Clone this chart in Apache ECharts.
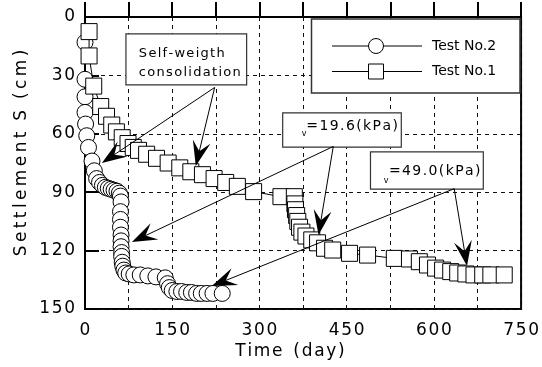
<!DOCTYPE html>
<html>
<head>
<meta charset="utf-8">
<script src="https://cdn.jsdelivr.net/npm/echarts@6/dist/echarts.min.js"></script>
<style>
html,body{margin:0;padding:0;background:#fff;}
#c{width:542px;height:367px;}
</style>
</head>
<body>
<div id="c"></div>
<script>
// ---- data (day, settlement cm) ----
var test2Days = [0,0,0,0,1,3,6,12,16,20,25,30,35,40,45,50,55,59,61,62,61,61,61,62,62,62,63,63,64,65,67,70,76,84,95,108,122,138,142,145,150,158,166,175,183,192,200,210,220,236];
var test2S    = [13,32,41,49,55,61,67,74,79,83,85,86.5,87.5,88,88.5,89,89.5,90.5,92,95,100,104,108,112,115,118,121,123,126,128,130,131.5,132,132.5,132.5,133,133.5,134,137,139,140.5,141,141,141.5,141.5,142,142,142,142,142];
var test1Days = [7,7,15,27,37,46,54,64,74,83,92,106,123,143,163,182,202,222,242,262,290,337,360,361,362,364,366,369,373,380,390,400,412,426,455,486,532,558,575,589,603,615,629,641,655,669,684,698,721];
var test1S    = [7.5,20,35.5,46,51,55.5,59,62,65,67,68.5,70.5,72.6,75,77.5,79.5,81,83,85,87,89.7,92.3,92.3,96,99,102,105,108,110.5,112.5,114.5,116,118.8,119.7,121.4,122.3,124,124.3,125.7,127.4,129,130,130.8,131.5,132,132.5,132.5,132.5,132.5];
var xTicks = [0,150,300,450,600,750];
var yTicks = [0,30,60,90,120,150];
var seriesNames = ['Test No.2','Test No.1'];

var HS = '\u200A';
function sp(s, ch){ return String(s).split('').join(ch || HS); }
function pairs(xs, ys){ return xs.map(function(x,i){ return [x, ys[i]]; }); }

var chart = echarts.init(document.getElementById('c'), null, {renderer:'canvas'});
var FONT = 'DejaVu Sans';
chart.setOption({
  animation:false,
  backgroundColor:'#fff',
  grid:{left:85, top:17, right:20, bottom:58, show:true, borderColor:'#000', borderWidth:2, backgroundColor:'transparent'},
  xAxis:{type:'value', min:0, max:750, interval:75,
    axisLine:{show:true, lineStyle:{color:'#000', width:2}},
    axisTick:{show:true, inside:true, length:15, lineStyle:{color:'#000', width:2}},
    axisLabel:{color:'#000', fontFamily:FONT, fontSize:17, margin:13,
      formatter:function(v){ return xTicks.indexOf(v) >= 0 ? sp(v) : ''; }},
    splitLine:{show:true, lineStyle:{color:'#111', width:1, type:[4,4]}}
  },
  yAxis:{type:'value', inverse:true, min:0, max:150, interval:30,
    axisLine:{show:true, lineStyle:{color:'#000', width:2}},
    axisTick:{show:true, inside:true, length:14, lineStyle:{color:'#000', width:2}},
    axisLabel:{color:'#000', fontFamily:FONT, fontSize:17, margin:10,
      formatter:function(v){ return yTicks.indexOf(v) >= 0 ? sp(v) : ''; }},
    splitLine:{show:true, lineStyle:{color:'#111', width:1, type:[4,4]}}
  },
  series:[
    {name:seriesNames[0], type:'line', data:pairs(test2Days, test2S), symbol:'circle', symbolSize:16, showAllSymbol:true,
      lineStyle:{color:'#000', width:1}, itemStyle:{color:'#fff', borderColor:'#000', borderWidth:1}, z:2},
    {name:seriesNames[1], type:'line', data:pairs(test1Days, test1S), symbol:'rect', symbolSize:16, showAllSymbol:true,
      lineStyle:{color:'#000', width:1}, itemStyle:{color:'#fff', borderColor:'#000', borderWidth:1}, z:3}
  ]
});

// ---- annotations (anchored in data coordinates) ----
function px(d){ return chart.convertToPixel({gridIndex:0}, d); }
var g = [];
function box(d0, d1){
  var a = px(d0), b = px(d1);
  g.push({type:'rect', z:20, shape:{x:a[0], y:a[1], width:b[0]-a[0], height:b[1]-a[1]},
    style:{fill:'#fff', stroke:'#333', lineWidth:1.2}});
}
function txt(x, y, s, size, align){
  g.push({type:'text', z:22, x:x, y:y, style:{text:s, fill:'#000', font:size+'px "DejaVu Sans"', textAlign:align||'left', textVerticalAlign:'middle'}});
}
function arrow(fromD, tipD){
  var o = px(fromD), t = px(tipD);
  var dx = o[0]-t[0], dy = o[1]-t[1], len = Math.sqrt(dx*dx+dy*dy);
  var ux = dx/len, uy = dy/len, pxv = -uy, pyv = ux;
  var L = 25, W = 18, N = 0.6;
  g.push({type:'line', z:21, shape:{x1:o[0], y1:o[1], x2:t[0]+ux*N*L, y2:t[1]+uy*N*L}, style:{stroke:'#000', lineWidth:1}});
  g.push({type:'polygon', z:21, shape:{points:[
    [t[0], t[1]],
    [t[0]+ux*L+pxv*W/2, t[1]+uy*L+pyv*W/2],
    [t[0]+ux*N*L, t[1]+uy*N*L],
    [t[0]+ux*L-pxv*W/2, t[1]+uy*L-pyv*W/2]
  ]}, style:{fill:'#000'}});
}

// Self-weigth consolidation
box([70.4, 8.7], [278, 34.9]);
var p = px([92.6, 18.8]); txt(p[0], p[1], sp('Self-weigth'), 13);
p = px([92.6, 28.6]); txt(p[0], p[1], sp('consolidation'), 13);
arrow([223, 36.2], [29, 75]);
arrow([223, 36.2], [190.5, 76.5]);

// sigma v = 19.6
box([340, 49.3], [544, 66.8]);
p = px([377, 60.1]); txt(p[0], p[1], 'v', 8, 'center');
p = px([375.5, 60.1]); txt(p[0]+3, p[1]-7.5, sp('=19.6(kPa)'), 14);
arrow([427, 66.5], [80.7, 115.6]);
arrow([427, 66.5], [401.6, 112]);

// sigma v = 49.0
box([491, 69.3], [685, 88.4]);
p = px([518, 84.0]); txt(p[0], p[1], 'v', 8, 'center');
p = px([517.5, 84.0]); txt(p[0]+3, p[1]-9, sp('=49.0(kPa)'), 14);
arrow([635, 88.2], [218, 138.2]);
arrow([635, 88.2], [657, 127.9]);

// legend
g.push({type:'rect', z:20, shape:{x:311.5, y:19, width:208.5, height:74}, style:{fill:'#fff', stroke:'#333', lineWidth:1.5}});
g.push({type:'line', z:21, shape:{x1:332, y1:46, x2:422, y2:46}, style:{stroke:'#000', lineWidth:1}});
g.push({type:'circle', z:22, shape:{cx:376, cy:46, r:7.5}, style:{fill:'#fff', stroke:'#000', lineWidth:1}});
txt(432, 46, seriesNames[0], 14);
g.push({type:'line', z:21, shape:{x1:332, y1:71.5, x2:422, y2:71.5}, style:{stroke:'#000', lineWidth:1}});
g.push({type:'rect', z:22, shape:{x:368.5, y:64, width:15, height:15}, style:{fill:'#fff', stroke:'#000', lineWidth:1}});
txt(432, 71.5, seriesNames[1], 14);

// axis titles
txt(290, 352, sp('Time') + '  ' + sp('(day)'), 17, 'center');
g.push({type:'text', z:22, x:22, y:153, rotation:Math.PI/2,
  style:{text:sp('Settlement','\u2009') + '  ' + 'S' + '  ' + sp('(cm)','\u2009'), fill:'#000', font:'17px "DejaVu Sans"', textAlign:'center', textVerticalAlign:'middle'}});

chart.setOption({graphic:g});
</script>
</body>
</html>
